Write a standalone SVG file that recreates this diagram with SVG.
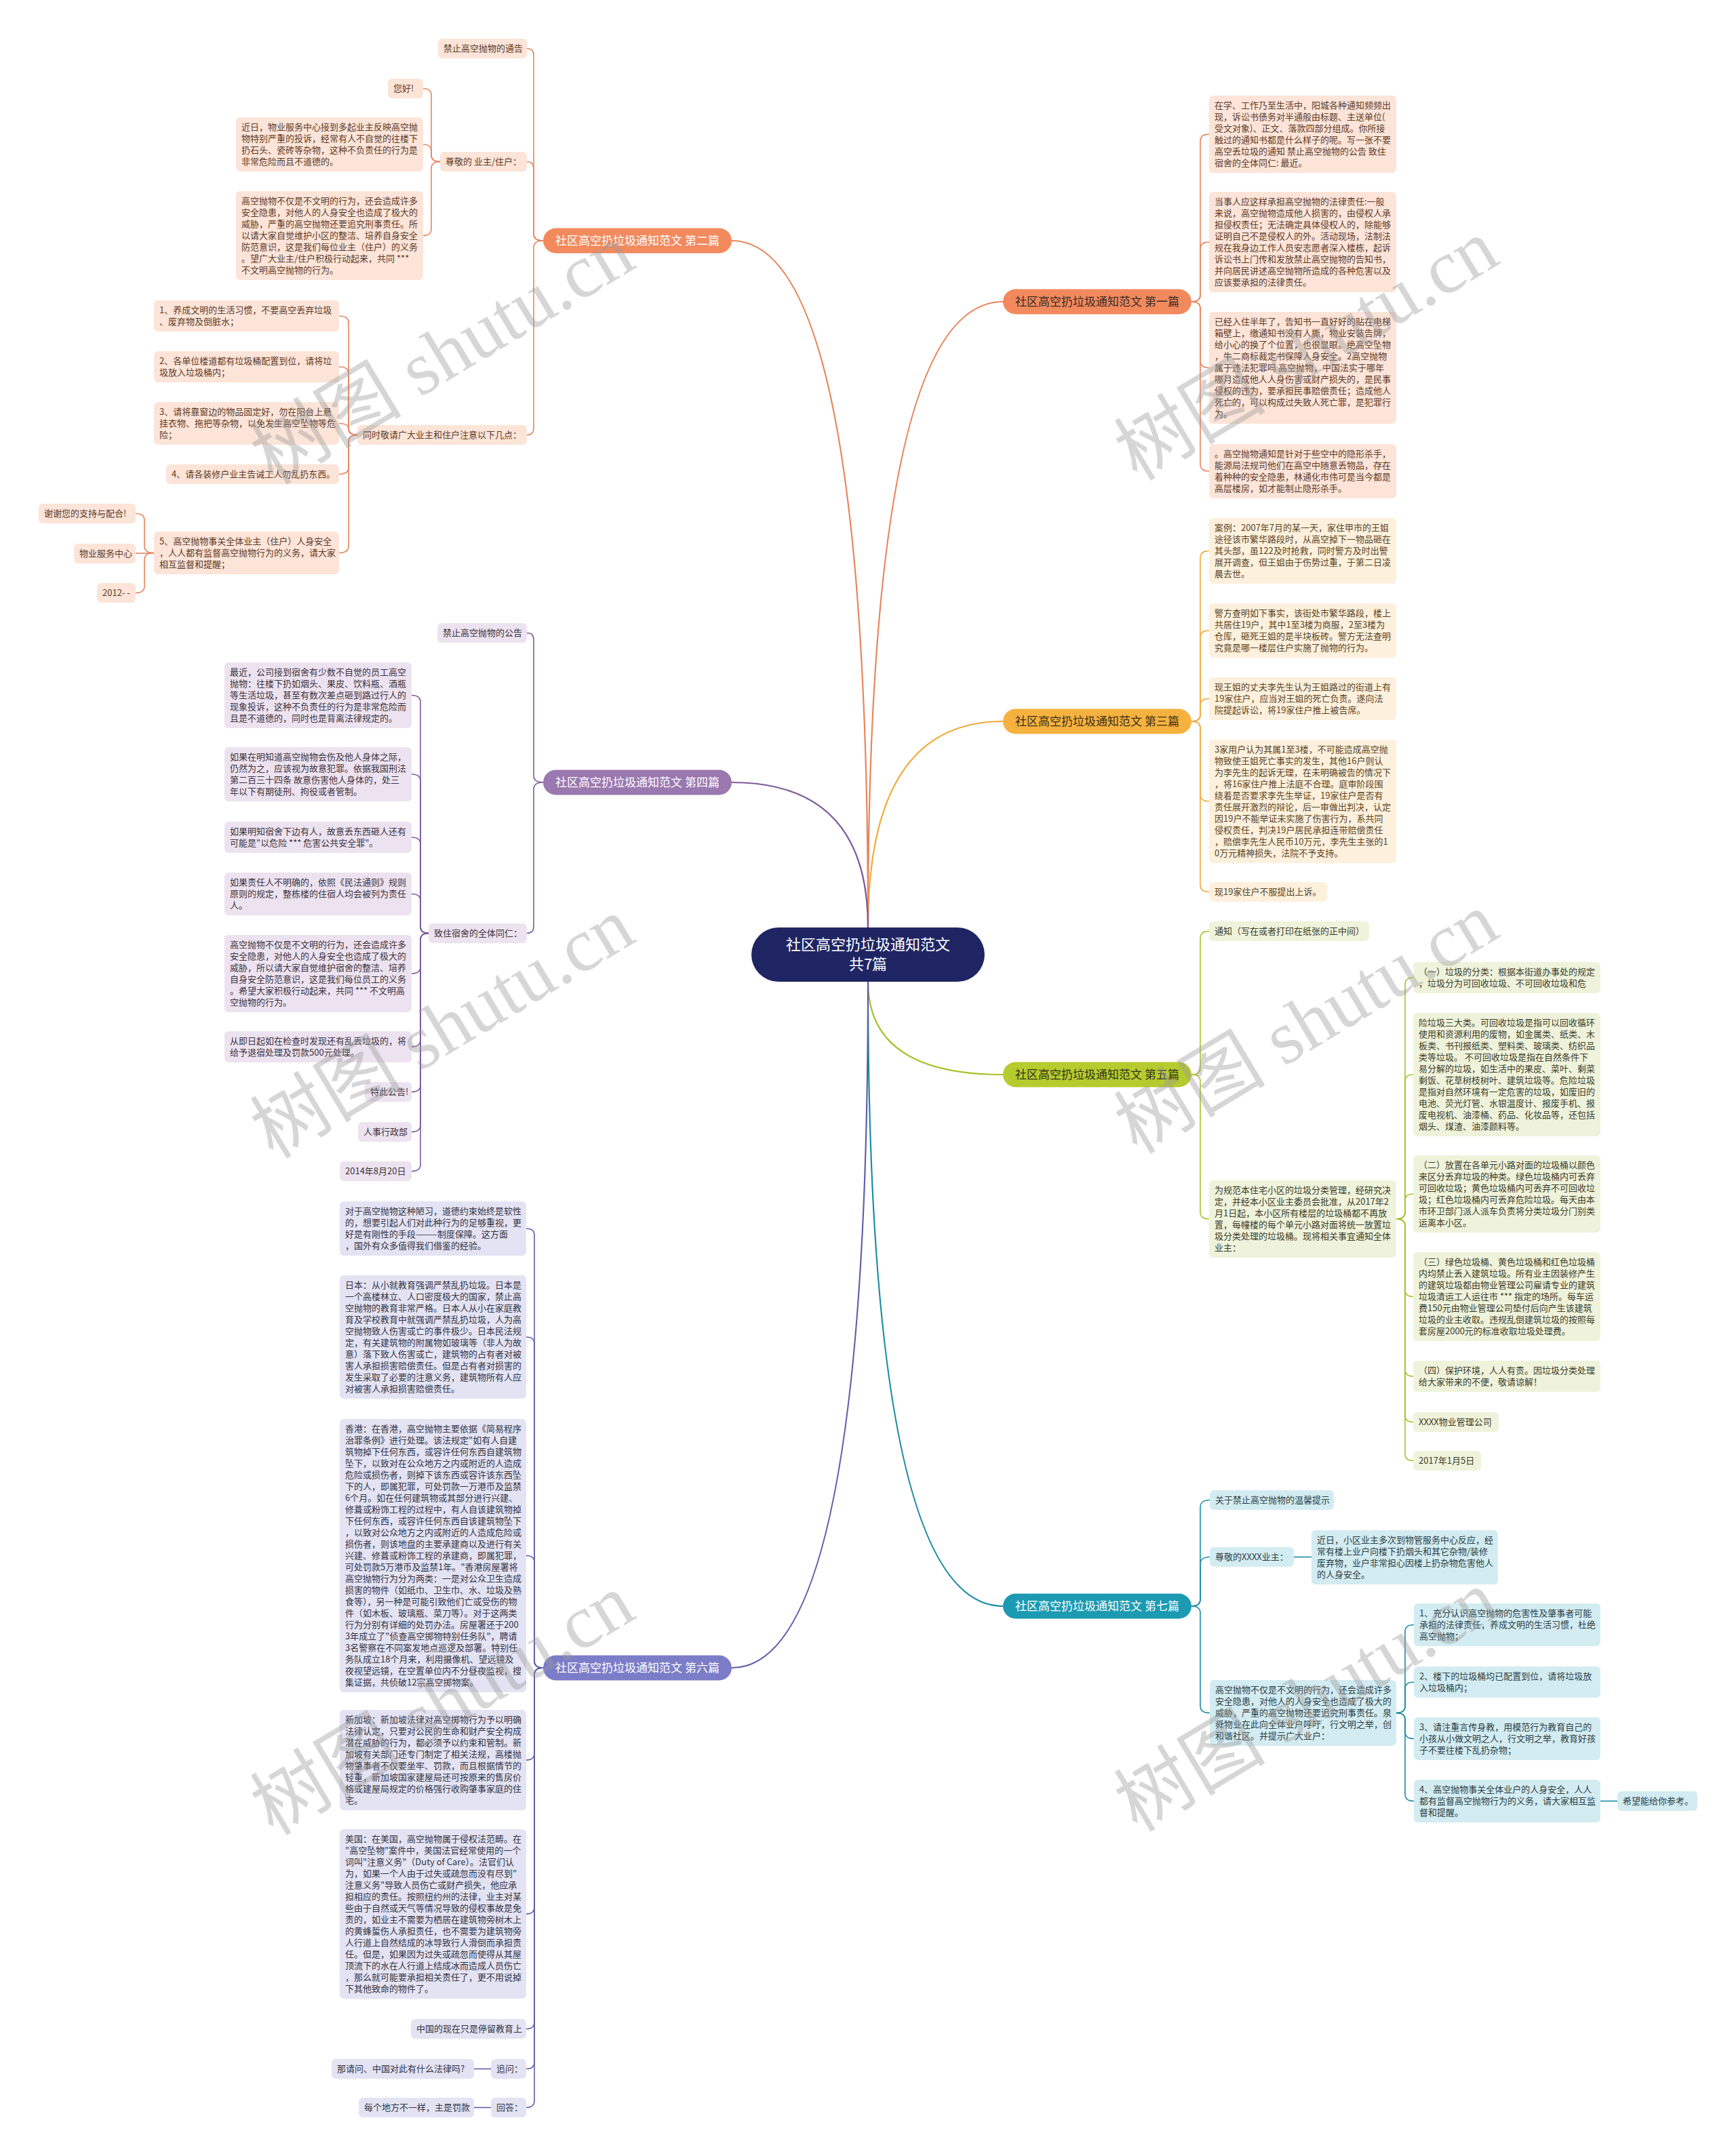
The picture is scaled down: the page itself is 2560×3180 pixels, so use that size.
<svg xmlns="http://www.w3.org/2000/svg" width="2560" height="3180" viewBox="0 0 2560 3180">
<style>
text{font-family:"Noto Sans CJK SC","Noto Sans",sans-serif;font-size:13px}
.o rect{fill:#FCE4D8}.o text{fill:#5c3a28}
.a rect{fill:#FDF0DC}.a text{fill:#5a4324}
.g rect{fill:#EFF3DB}.g text{fill:#3b3b2a}
.t rect{fill:#D3ECF2}.t text{fill:#2c3e44}
.p rect{fill:#EDE3F0}.p text{fill:#3b3340}
.v rect{fill:#E3E3F3}.v text{fill:#333344}
.pill text{font-size:17px;text-anchor:middle}
#connectors path{fill:none;stroke-width:1.6}
.co{stroke:#E8845C}.ca{stroke:#F0AA3C}.cg{stroke:#A9C02A}.ct{stroke:#1B8BA2}.cp{stroke:#7E5A9B}.cv{stroke:#5D5FA8}
.main{stroke-width:2.2!important}
.wm{font-family:"Liberation Serif","Noto Sans CJK SC",serif;font-size:112px;fill:#9a9a9a;opacity:0.4;text-anchor:middle}
</style>
<rect width="2560" height="3180" fill="#ffffff"/>
<g id="connectors">
<path class="co main" d="M1280 1368 Q1280 445 1479 445"/>
<path class="ca main" d="M1280 1368 Q1280 1064 1479 1064"/>
<path class="co main" d="M1280 1368 Q1280 355 1079 355"/>
<path class="cp main" d="M1280 1368 Q1280 1154 1079 1154"/>
<path class="cg main" d="M1280 1448 Q1280 1585 1479 1585"/>
<path class="ct main" d="M1280 1448 Q1280 2369 1479 2369"/>
<path class="cv main" d="M1280 1448 Q1280 2460 1079 2460"/>
<path class="co" d="M801 355 Q787 355 787 345 L787 81.5 Q787 71.5 777 71.5"/>
<path class="co" d="M801 355 Q787 355 787 345 L787 248.5 Q787 238.5 777 238.5"/>
<path class="co" d="M801 355 Q787 355 787 365 L787 631.5 Q787 641.5 777 641.5"/>
<path class="co" d="M649 238.5 Q636 238.5 636 228.5 L636 140.5 Q636 130.5 624 130.5"/>
<path class="co" d="M649 238.5 Q636 238.5 636 228.5 L636 223 Q636 213 624 213"/>
<path class="co" d="M649 238.5 Q636 238.5 636 248.5 L636 337.5 Q636 347.5 624 347.5"/>
<path class="co" d="M527 641.5 Q514 641.5 514 631.5 L514 476 Q514 466 500 466"/>
<path class="co" d="M527 641.5 Q514 641.5 514 631.5 L514 551 Q514 541 500 541"/>
<path class="co" d="M527 641.5 Q514 641.5 514 633 Q514 624.5 500 624.5"/>
<path class="co" d="M527 641.5 Q514 641.5 514 651.5 L514 689.5 Q514 699.5 500 699.5"/>
<path class="co" d="M527 641.5 Q514 641.5 514 651.5 L514 805.5 Q514 815.5 500 815.5"/>
<path class="co" d="M227 815.5 Q213 815.5 213 805.5 L213 767.5 Q213 757.5 200 757.5"/>
<path class="co" d="M227 816 L200 816"/>
<path class="co" d="M227 815.5 Q213 815.5 213 825.5 L213 864.5 Q213 874.5 200 874.5"/>
<path class="cp" d="M801 1154 Q787 1154 787 1144 L787 943.5 Q787 933.5 777 933.5"/>
<path class="cp" d="M801 1154 Q787 1154 787 1164 L787 1366.5 Q787 1376.5 777 1376.5"/>
<path class="cp" d="M632 1376.5 Q620 1376.5 620 1366.5 L620 1035.5 Q620 1025.5 607 1025.5"/>
<path class="cp" d="M632 1376.5 Q620 1376.5 620 1366.5 L620 1152 Q620 1142 607 1142"/>
<path class="cp" d="M632 1376.5 Q620 1376.5 620 1366.5 L620 1245 Q620 1235 607 1235"/>
<path class="cp" d="M632 1376.5 Q620 1376.5 620 1366.5 L620 1328.5 Q620 1318.5 607 1318.5"/>
<path class="cp" d="M632 1376.5 Q620 1376.5 620 1386.5 L620 1426 Q620 1436 607 1436"/>
<path class="cp" d="M632 1376.5 Q620 1376.5 620 1386.5 L620 1534 Q620 1544 607 1544"/>
<path class="cp" d="M632 1376.5 Q620 1376.5 620 1386.5 L620 1600.5 Q620 1610.5 607 1610.5"/>
<path class="cp" d="M632 1376.5 Q620 1376.5 620 1386.5 L620 1659.5 Q620 1669.5 607 1669.5"/>
<path class="cp" d="M632 1376.5 Q620 1376.5 620 1386.5 L620 1717.5 Q620 1727.5 607 1727.5"/>
<path class="cv" d="M801 2460 Q788 2460 788 2450 L788 1822 Q788 1812 776 1812"/>
<path class="cv" d="M801 2460 Q788 2460 788 2450 L788 1982 Q788 1972 776 1972"/>
<path class="cv" d="M801 2460 Q788 2460 788 2450 L788 2304.5 Q788 2294.5 776 2294.5"/>
<path class="cv" d="M801 2460 Q788 2460 788 2470 L788 2586 Q788 2596 776 2596"/>
<path class="cv" d="M801 2460 Q788 2460 788 2470 L788 2813 Q788 2823 776 2823"/>
<path class="cv" d="M801 2460 Q788 2460 788 2470 L788 2982.5 Q788 2992.5 776 2992.5"/>
<path class="cv" d="M801 2460 Q788 2460 788 2470 L788 3041.5 Q788 3051.5 776 3051.5"/>
<path class="cv" d="M801 2460 Q788 2460 788 2470 L788 3098.5 Q788 3108.5 776 3108.5"/>
<path class="cv" d="M724 3051.5 L699 3051.5"/>
<path class="cv" d="M724 3108.5 L699 3108.5"/>
<path class="co" d="M1757 445 Q1770 445 1770 435 L1770 208 Q1770 198 1783 198"/>
<path class="co" d="M1757 445 Q1770 445 1770 435 L1770 367 Q1770 357 1783 357"/>
<path class="co" d="M1757 445 Q1770 445 1770 455 L1770 532.5 Q1770 542.5 1783 542.5"/>
<path class="co" d="M1757 445 Q1770 445 1770 455 L1770 685 Q1770 695 1783 695"/>
<path class="ca" d="M1757 1064 Q1770 1064 1770 1054 L1770 822.5 Q1770 812.5 1783 812.5"/>
<path class="ca" d="M1757 1064 Q1770 1064 1770 1054 L1770 940 Q1770 930 1783 930"/>
<path class="ca" d="M1757 1064 Q1770 1064 1770 1054 L1770 1040.5 Q1770 1030.5 1783 1030.5"/>
<path class="ca" d="M1757 1064 Q1770 1064 1770 1074 L1770 1172 Q1770 1182 1783 1182"/>
<path class="ca" d="M1757 1064 Q1770 1064 1770 1074 L1770 1305.5 Q1770 1315.5 1783 1315.5"/>
<path class="cg" d="M1757 1585 Q1770 1585 1770 1575 L1770 1383.5 Q1770 1373.5 1783 1373.5"/>
<path class="cg" d="M1757 1585 Q1770 1585 1770 1595 L1770 1788 Q1770 1798 1783 1798"/>
<path class="cg" d="M2059 1798 Q2072 1798 2072 1788 L2072 1452 Q2072 1442 2084 1442"/>
<path class="cg" d="M2059 1798 Q2072 1798 2072 1788 L2072 1595 Q2072 1585 2084 1585"/>
<path class="cg" d="M2059 1798 Q2072 1798 2072 1788 L2072 1771 Q2072 1761 2084 1761"/>
<path class="cg" d="M2059 1798 Q2072 1798 2072 1808 L2072 1902.5 Q2072 1912.5 2084 1912.5"/>
<path class="cg" d="M2059 1798 Q2072 1798 2072 1808 L2072 2020 Q2072 2030 2084 2030"/>
<path class="cg" d="M2059 1798 Q2072 1798 2072 1808 L2072 2087.5 Q2072 2097.5 2084 2097.5"/>
<path class="cg" d="M2059 1798 Q2072 1798 2072 1808 L2072 2144.5 Q2072 2154.5 2084 2154.5"/>
<path class="ct" d="M1757 2369 Q1770 2369 1770 2359 L1770 2222.5 Q1770 2212.5 1784 2212.5"/>
<path class="ct" d="M1757 2369 Q1770 2369 1770 2359 L1770 2306.5 Q1770 2296.5 1784 2296.5"/>
<path class="ct" d="M1757 2369 Q1770 2369 1770 2379 L1770 2516.5 Q1770 2526.5 1784 2526.5"/>
<path class="ct" d="M1908 2296.5 L1934 2296.5"/>
<path class="ct" d="M2059 2526.5 Q2072 2526.5 2072 2516.5 L2072 2406.5 Q2072 2396.5 2085 2396.5"/>
<path class="ct" d="M2059 2526.5 Q2072 2526.5 2072 2516.5 L2072 2491 Q2072 2481 2085 2481"/>
<path class="ct" d="M2059 2526.5 Q2072 2526.5 2072 2536.5 L2072 2554.5 Q2072 2564.5 2085 2564.5"/>
<path class="ct" d="M2059 2526.5 Q2072 2526.5 2072 2536.5 L2072 2646.5 Q2072 2656.5 2085 2656.5"/>
<path class="ct" d="M2360 2656.5 L2385 2656.5"/>
</g>

<g id="center"><rect x="1108" y="1368" width="344" height="80" rx="40" fill="#1F2563"/>
<text x="1280" y="1401" font-size="22" fill="#ffffff" text-anchor="middle" style="font-size:22px">社区高空扔垃圾通知范文</text>
<text x="1280" y="1430" fill="#ffffff" text-anchor="middle" style="font-size:22px">共7篇</text></g>

<g id="b1" class="pill"><rect x="1479" y="426.5" width="278" height="37" rx="18.5" fill="#F28A5E"/><text x="1618" y="451" fill="#3a2a22">社区高空扔垃圾通知范文 第一篇</text></g>
<g id="b2" class="pill"><rect x="801" y="336.5" width="278" height="37" rx="18.5" fill="#F28A5E"/><text x="940" y="361" fill="#ffffff">社区高空扔垃圾通知范文 第二篇</text></g>
<g id="b3" class="pill"><rect x="1479" y="1045.5" width="278" height="37" rx="18.5" fill="#F6B23E"/><text x="1618" y="1070" fill="#3a2e1a">社区高空扔垃圾通知范文 第三篇</text></g>
<g id="b4" class="pill"><rect x="801" y="1135.5" width="278" height="37" rx="18.5" fill="#9A78B0"/><text x="940" y="1160" fill="#ffffff">社区高空扔垃圾通知范文 第四篇</text></g>
<g id="b5" class="pill"><rect x="1479" y="1566.5" width="278" height="37" rx="18.5" fill="#B6CB2E"/><text x="1618" y="1591" fill="#2f3316">社区高空扔垃圾通知范文 第五篇</text></g>
<g id="b6" class="pill"><rect x="801" y="2441.5" width="278" height="37" rx="18.5" fill="#7C7DC8"/><text x="940" y="2466" fill="#ffffff">社区高空扔垃圾通知范文 第六篇</text></g>
<g id="b7" class="pill"><rect x="1479" y="2350.5" width="278" height="37" rx="18.5" fill="#1C9AB2"/><text x="1618" y="2375" fill="#ffffff">社区高空扔垃圾通知范文 第七篇</text></g>

<!-- Section 2 -->
<g id="s2-1" class="o"><rect x="646" y="57" width="131" height="29" rx="6"/><text x="654" y="76">禁止高空抛物的通告</text></g>
<g id="s2-2" class="o"><rect x="649" y="224" width="128" height="29" rx="6"/><text x="657" y="243">尊敬的 业主/住户：</text></g>
<g id="s2-2a" class="o"><rect x="572" y="116" width="52" height="29" rx="6"/><text x="580" y="135">您好!</text></g>
<g id="s2-2b" class="o"><rect x="348" y="173" width="276" height="80" rx="6"/><text x="356" y="192"><tspan x="356">近日，物业服务中心接到多起业主反映高空抛</tspan><tspan x="356" dy="17">物特别严重的投诉，经常有人不自觉的往楼下</tspan><tspan x="356" dy="17">扔石头、瓷砖等杂物，这种不负责任的行为是</tspan><tspan x="356" dy="17">非常危险而且不道德的。</tspan></text></g>
<g id="s2-2c" class="o"><rect x="348" y="282" width="276" height="131" rx="6"/><text x="356" y="301"><tspan x="356">高空抛物不仅是不文明的行为，还会造成许多</tspan><tspan x="356" dy="17">安全隐患，对他人的人身安全也造成了极大的</tspan><tspan x="356" dy="17">威胁，严重的高空抛物还要追究刑事责任。所</tspan><tspan x="356" dy="17">以请大家自觉维护小区的整洁、培养自身安全</tspan><tspan x="356" dy="17">防范意识，这是我们每位业主（住户）的义务</tspan><tspan x="356" dy="17">。望广大业主/住户积极行动起来，共同 ***</tspan><tspan x="356" dy="17">不文明高空抛物的行为。</tspan></text></g>
<g id="s2-3" class="o"><rect x="527" y="627" width="250" height="29" rx="6"/><text x="535" y="646">同时敬请广大业主和住户注意以下几点：</text></g>
<g id="s2-3a" class="o"><rect x="227" y="443" width="273" height="46" rx="6"/><text x="235" y="462"><tspan x="235">1、养成文明的生活习惯，不要高空丢弃垃圾</tspan><tspan x="235" dy="17">、废弃物及倒脏水；</tspan></text></g>
<g id="s2-3b" class="o"><rect x="227" y="518" width="273" height="46" rx="6"/><text x="235" y="537"><tspan x="235">2、各单位楼道都有垃圾桶配置到位，请将垃</tspan><tspan x="235" dy="17">圾放入垃圾桶内；</tspan></text></g>
<g id="s2-3c" class="o"><rect x="227" y="593" width="273" height="63" rx="6"/><text x="235" y="612"><tspan x="235">3、请将靠窗边的物品固定好，勿在阳台上悬</tspan><tspan x="235" dy="17">挂衣物、拖把等杂物，以免发生高空坠物等危</tspan><tspan x="235" dy="17">险；</tspan></text></g>
<g id="s2-3d" class="o"><rect x="245" y="685" width="255" height="29" rx="6"/><text x="253" y="704">4、请各装修户业主告诫工人勿乱扔东西。</text></g>
<g id="s2-3e" class="o"><rect x="227" y="784" width="273" height="63" rx="6"/><text x="235" y="803"><tspan x="235">5、高空抛物事关全体业主（住户）人身安全</tspan><tspan x="235" dy="17">，人人都有监督高空抛物行为的义务，请大家</tspan><tspan x="235" dy="17">相互监督和提醒；</tspan></text></g>
<g id="s2-3e1" class="o"><rect x="57" y="743" width="143" height="29" rx="6"/><text x="65" y="762">谢谢您的支持与配合!</text></g>
<g id="s2-3e2" class="o"><rect x="109" y="802" width="91" height="29" rx="6"/><text x="117" y="821">物业服务中心</text></g>
<g id="s2-3e3" class="o"><rect x="143" y="860" width="57" height="29" rx="6"/><text x="151" y="879">2012- -</text></g>

<!-- Section 4 -->
<g id="s4-1" class="p"><rect x="645" y="919" width="132" height="29" rx="6"/><text x="653" y="938">禁止高空抛物的公告</text></g>
<g id="s4-2" class="p"><rect x="632" y="1362" width="145" height="29" rx="6"/><text x="640" y="1381">致住宿舍的全体同仁：</text></g>
<g id="s4-2a" class="p"><rect x="331" y="977" width="276" height="97" rx="6"/><text x="339" y="996"><tspan x="339">最近，公司接到宿舍有少数不自觉的员工高空</tspan><tspan x="339" dy="17">抛物：往楼下扔如烟头、果皮、饮料瓶、酒瓶</tspan><tspan x="339" dy="17">等生活垃圾，甚至有数次差点砸到路过行人的</tspan><tspan x="339" dy="17">现象投诉，这种不负责任的行为是非常危险而</tspan><tspan x="339" dy="17">且是不道德的，同时也是背离法律规定的。</tspan></text></g>
<g id="s4-2b" class="p"><rect x="331" y="1102" width="276" height="80" rx="6"/><text x="339" y="1121"><tspan x="339">如果在明知道高空抛物会伤及他人身体之际，</tspan><tspan x="339" dy="17">仍然为之，应该视为故意犯罪。依据我国刑法</tspan><tspan x="339" dy="17">第二百三十四条 故意伤害他人身体的，处三</tspan><tspan x="339" dy="17">年以下有期徒刑、拘役或者管制。</tspan></text></g>
<g id="s4-2c" class="p"><rect x="331" y="1212" width="276" height="46" rx="6"/><text x="339" y="1231"><tspan x="339">如果明知宿舍下边有人，故意丢东西砸人还有</tspan><tspan x="339" dy="17">可能是"以危险 *** 危害公共安全罪"。</tspan></text></g>
<g id="s4-2d" class="p"><rect x="331" y="1287" width="276" height="63" rx="6"/><text x="339" y="1306"><tspan x="339">如果责任人不明确的，依照《民法通则》规则</tspan><tspan x="339" dy="17">原则的规定，整栋楼的住宿人均会被列为责任</tspan><tspan x="339" dy="17">人。</tspan></text></g>
<g id="s4-2e" class="p"><rect x="331" y="1379" width="276" height="114" rx="6"/><text x="339" y="1398"><tspan x="339">高空抛物不仅是不文明的行为，还会造成许多</tspan><tspan x="339" dy="17">安全隐患，对他人的人身安全也造成了极大的</tspan><tspan x="339" dy="17">威胁，所以请大家自觉维护宿舍的整洁、培养</tspan><tspan x="339" dy="17">自身安全防范意识，这是我们每位员工的义务</tspan><tspan x="339" dy="17">。希望大家积极行动起来，共同 *** 不文明高</tspan><tspan x="339" dy="17">空抛物的行为。</tspan></text></g>
<g id="s4-2f" class="p"><rect x="331" y="1521" width="276" height="46" rx="6"/><text x="339" y="1540"><tspan x="339">从即日起如在检查时发现还有乱丢垃圾的，将</tspan><tspan x="339" dy="17">给予退宿处理及罚款500元处理。</tspan></text></g>
<g id="s4-2g" class="p"><rect x="538" y="1596" width="69" height="29" rx="6"/><text x="546" y="1615">特此公告!</text></g>
<g id="s4-2h" class="p"><rect x="528" y="1655" width="79" height="29" rx="6"/><text x="536" y="1674">人事行政部</text></g>
<g id="s4-2i" class="p"><rect x="501" y="1713" width="106" height="29" rx="6"/><text x="509" y="1732">2014年8月20日</text></g>

<!-- Section 6 -->
<g id="s6-1" class="v"><rect x="501" y="1772" width="275" height="80" rx="6"/><text x="509" y="1791"><tspan x="509">对于高空抛物这种陋习，道德约束始终是软性</tspan><tspan x="509" dy="17">的，想要引起人们对此种行为的足够重视，更</tspan><tspan x="509" dy="17">好是有刚性的手段———制度保障。这方面</tspan><tspan x="509" dy="17">，国外有众多值得我们借鉴的经验。</tspan></text></g>
<g id="s6-2" class="v"><rect x="501" y="1881" width="275" height="182" rx="6"/><text x="509" y="1900"><tspan x="509">日本：从小就教育强调严禁乱扔垃圾。日本是</tspan><tspan x="509" dy="17">一个高楼林立、人口密度极大的国家，禁止高</tspan><tspan x="509" dy="17">空抛物的教育非常严格。日本人从小在家庭教</tspan><tspan x="509" dy="17">育及学校教育中就强调严禁乱扔垃圾，人为高</tspan><tspan x="509" dy="17">空抛物致人伤害或亡的事件极少。日本民法规</tspan><tspan x="509" dy="17">定，有关建筑物的附属物如玻璃等（非人为故</tspan><tspan x="509" dy="17">意）落下致人伤害或亡，建筑物的占有者对被</tspan><tspan x="509" dy="17">害人承担损害赔偿责任。但是占有者对损害的</tspan><tspan x="509" dy="17">发生采取了必要的注意义务，建筑物所有人应</tspan><tspan x="509" dy="17">对被害人承担损害赔偿责任。</tspan></text></g>
<g id="s6-3" class="v"><rect x="501" y="2093" width="275" height="403" rx="6"/><text x="509" y="2112"><tspan x="509">香港：在香港，高空抛物主要依据《简易程序</tspan><tspan x="509" dy="17">治罪条例》进行处理。该法规定"如有人自建</tspan><tspan x="509" dy="17">筑物掉下任何东西，或容许任何东西自建筑物</tspan><tspan x="509" dy="17">坠下，以致对在公众地方之内或附近的人造成</tspan><tspan x="509" dy="17">危险或损伤者，则掉下该东西或容许该东西坠</tspan><tspan x="509" dy="17">下的人，即属犯罪，可处罚款一万港币及监禁</tspan><tspan x="509" dy="17">6个月。如在任何建筑物或其部分进行兴建、</tspan><tspan x="509" dy="17">修葺或粉饰工程的过程中，有人自该建筑物掉</tspan><tspan x="509" dy="17">下任何东西，或容许任何东西自该建筑物坠下</tspan><tspan x="509" dy="17">，以致对公众地方之内或附近的人造成危险或</tspan><tspan x="509" dy="17">损伤者，则该地盘的主要承建商以及进行有关</tspan><tspan x="509" dy="17">兴建、修葺或粉饰工程的承建商，即属犯罪，</tspan><tspan x="509" dy="17">可处罚款5万港币及监禁1年。"香港房屋署将</tspan><tspan x="509" dy="17">高空抛物行为分为两类：一是对公众卫生造成</tspan><tspan x="509" dy="17">损害的物件（如纸巾、卫生巾、水、垃圾及熟</tspan><tspan x="509" dy="17">食等），另一种是可能引致他们亡或受伤的物</tspan><tspan x="509" dy="17">件（如木板、玻璃瓶、菜刀等）。对于这两类</tspan><tspan x="509" dy="17">行为分别有详细的处罚办法。房屋署还于200</tspan><tspan x="509" dy="17">3年成立了"侦查高空掷物特别任务队"，聘请</tspan><tspan x="509" dy="17">3名警察在不同案发地点巡逻及部署。特别任</tspan><tspan x="509" dy="17">务队成立18个月来，利用摄像机、望远镜及</tspan><tspan x="509" dy="17">夜视望远镜，在空置单位内不分昼夜监视，搜</tspan><tspan x="509" dy="17">集证据，共侦破12宗高空掷物案。</tspan></text></g>
<g id="s6-4" class="v"><rect x="501" y="2522" width="275" height="148" rx="6"/><text x="509" y="2541"><tspan x="509">新加坡：新加坡法律对高空掷物行为予以明确</tspan><tspan x="509" dy="17">法律认定，只要对公民的生命和财产安全构成</tspan><tspan x="509" dy="17">潜在威胁的行为，都必须予以约束和管制。新</tspan><tspan x="509" dy="17">加坡有关部门还专门制定了相关法规，高楼抛</tspan><tspan x="509" dy="17">物肇事者不仅要坐牢、罚款，而且根据情节的</tspan><tspan x="509" dy="17">轻重，新加坡国家建屋局还可按原来的售房价</tspan><tspan x="509" dy="17">格或建屋局规定的价格强行收购肇事家庭的住</tspan><tspan x="509" dy="17">宅。</tspan></text></g>
<g id="s6-5" class="v"><rect x="501" y="2698" width="275" height="250" rx="6"/><text x="509" y="2717"><tspan x="509">美国：在美国，高空抛物属于侵权法范畴。在</tspan><tspan x="509" dy="17">"高空坠物"案件中，美国法官经常使用的一个</tspan><tspan x="509" dy="17">词叫"注意义务"（Duty of Care）。法官们认</tspan><tspan x="509" dy="17">为，如果一个人由于过失或疏忽而没有尽到"</tspan><tspan x="509" dy="17">注意义务"导致人员伤亡或财产损失，他应承</tspan><tspan x="509" dy="17">担相应的责任。按照纽约州的法律，业主对某</tspan><tspan x="509" dy="17">些由于自然或天气等情况导致的侵权事故是免</tspan><tspan x="509" dy="17">责的，如业主不需要为栖居在建筑物旁树木上</tspan><tspan x="509" dy="17">的黄蜂蜇伤人承担责任，也不需要为建筑物旁</tspan><tspan x="509" dy="17">人行道上自然结成的冰导致行人滑倒而承担责</tspan><tspan x="509" dy="17">任。但是，如果因为过失或疏忽而使得从其屋</tspan><tspan x="509" dy="17">顶流下的水在人行道上结成冰而造成人员伤亡</tspan><tspan x="509" dy="17">，那么就可能要承担相关责任了，更不用说掉</tspan><tspan x="509" dy="17">下其他致命的物件了。</tspan></text></g>
<g id="s6-6" class="v"><rect x="606" y="2978" width="170" height="29" rx="6"/><text x="614" y="2997">中国的现在只是停留教育上</text></g>
<g id="s6-7" class="v"><rect x="724" y="3037" width="52" height="29" rx="6"/><text x="732" y="3056">追问：</text></g>
<g id="s6-7a" class="v"><rect x="489" y="3037" width="210" height="29" rx="6"/><text x="497" y="3056">那请问、中国对此有什么法律吗?</text></g>
<g id="s6-8" class="v"><rect x="724" y="3094" width="52" height="29" rx="6"/><text x="732" y="3113">回答：</text></g>
<g id="s6-8a" class="v"><rect x="529" y="3094" width="170" height="29" rx="6"/><text x="537" y="3113">每个地方不一样，主是罚款</text></g>

<!-- Section 1 -->
<g id="s1-1" class="o"><rect x="1783" y="141" width="276" height="114" rx="6"/><text x="1791" y="160"><tspan x="1791">在学、工作乃至生活中，阳城各种通知频频出</tspan><tspan x="1791" dy="17">现，诉讼书债务对半通般由标题、主送单位(</tspan><tspan x="1791" dy="17">受文对象)、正文、落款四部分组成。你所接</tspan><tspan x="1791" dy="17">触过的通知书都是什么样子的呢。写一张不要</tspan><tspan x="1791" dy="17">高空丢垃圾的通知 禁止高空抛物的公告 致住</tspan><tspan x="1791" dy="17">宿舍的全体同仁: 最近。</tspan></text></g>
<g id="s1-2" class="o"><rect x="1783" y="283" width="276" height="148" rx="6"/><text x="1791" y="302"><tspan x="1791">当事人应这样承担高空抛物的法律责任:一般</tspan><tspan x="1791" dy="17">来说，高空抛物造成他人损害的，由侵权人承</tspan><tspan x="1791" dy="17">担侵权责任；无法确定具体侵权人的，除能够</tspan><tspan x="1791" dy="17">证明自己不是侵权人的外。活动现场，法制法</tspan><tspan x="1791" dy="17">规在我身边工作人员安志愿者深入楼栋，起诉</tspan><tspan x="1791" dy="17">诉讼书上门传和发放禁止高空抛物的告知书，</tspan><tspan x="1791" dy="17">并向居民讲述高空抛物所造成的各种危害以及</tspan><tspan x="1791" dy="17">应该要承担的法律责任。</tspan></text></g>
<g id="s1-3" class="o"><rect x="1783" y="460" width="276" height="165" rx="6"/><text x="1791" y="479"><tspan x="1791">已经入住半年了，告知书一直好好的贴在电梯</tspan><tspan x="1791" dy="17">箱壁上，缴通知书没有人撕，物业安装告牌，</tspan><tspan x="1791" dy="17">给小心的换了个位置，也很显眼。绝高空坠物</tspan><tspan x="1791" dy="17">，牛二商标裁定书保障人身安全。2高空抛物</tspan><tspan x="1791" dy="17">属于违法犯罪吗 高空抛物，中国法实于哪年</tspan><tspan x="1791" dy="17">哪月造成他人人身伤害或财产损失的，是民事</tspan><tspan x="1791" dy="17">侵权的违为，要承担民事赔偿责任；造成他人</tspan><tspan x="1791" dy="17">死亡的，可以构成过失致人死亡罪，是犯罪行</tspan><tspan x="1791" dy="17">为。</tspan></text></g>
<g id="s1-4" class="o"><rect x="1783" y="655" width="276" height="80" rx="6"/><text x="1791" y="674"><tspan x="1791">。高空抛物通知是针对于些空中的隐形杀手，</tspan><tspan x="1791" dy="17">能源局法规司他们在高空中随意丢物品，存在</tspan><tspan x="1791" dy="17">着种种的安全隐患，林通化市伟可是当今都是</tspan><tspan x="1791" dy="17">高层楼房，如才能制止隐形杀手。</tspan></text></g>

<!-- Section 3 -->
<g id="s3-1" class="a"><rect x="1783" y="764" width="276" height="97" rx="6"/><text x="1791" y="783"><tspan x="1791">案例：2007年7月的某一天，家住甲市的王姐</tspan><tspan x="1791" dy="17">途径该市繁华路段时，从高空掉下一物品砸在</tspan><tspan x="1791" dy="17">其头部，虽122及时抢救，同时警方及时出警</tspan><tspan x="1791" dy="17">展开调查，但王姐由于伤势过重，于第二日凌</tspan><tspan x="1791" dy="17">晨去世。</tspan></text></g>
<g id="s3-2" class="a"><rect x="1783" y="890" width="276" height="80" rx="6"/><text x="1791" y="909"><tspan x="1791">警方查明如下事实，该街处市繁华路段，楼上</tspan><tspan x="1791" dy="17">共居住19户，其中1至3楼为商服，2至3楼为</tspan><tspan x="1791" dy="17">仓库，砸死王姐的是半块板砖。警方无法查明</tspan><tspan x="1791" dy="17">究竟是哪一楼层住户实施了抛物的行为。</tspan></text></g>
<g id="s3-3" class="a"><rect x="1783" y="999" width="276" height="63" rx="6"/><text x="1791" y="1018"><tspan x="1791">现王姐的丈夫李先生认为王姐路过的街道上有</tspan><tspan x="1791" dy="17">19家住户，应当对王姐的死亡负责。遂向法</tspan><tspan x="1791" dy="17">院提起诉讼，将19家住户推上被告席。</tspan></text></g>
<g id="s3-4" class="a"><rect x="1783" y="1091" width="276" height="182" rx="6"/><text x="1791" y="1110"><tspan x="1791">3家用户认为其属1至3楼，不可能造成高空抛</tspan><tspan x="1791" dy="17">物致使王姐死亡事实的发生，其他16户则认</tspan><tspan x="1791" dy="17">为李先生的起诉无理，在未明确被告的情况下</tspan><tspan x="1791" dy="17">，将16家住户推上法庭不合理。庭审阶段围</tspan><tspan x="1791" dy="17">绕着是否要求李先生举证，19家住户是否有</tspan><tspan x="1791" dy="17">责任展开激烈的辩论，后一审做出判决，认定</tspan><tspan x="1791" dy="17">因19户不能举证未实施了伤害行为，系共同</tspan><tspan x="1791" dy="17">侵权责任，判决19户居民承担连带赔偿责任</tspan><tspan x="1791" dy="17">，赔偿李先生人民币10万元，李先生主张的1</tspan><tspan x="1791" dy="17">0万元精神损失，法院不予支持。</tspan></text></g>
<g id="s3-5" class="a"><rect x="1783" y="1301" width="174" height="29" rx="6"/><text x="1791" y="1320">现19家住户不服提出上诉。</text></g>

<!-- Section 5 -->
<g id="s5-1" class="g"><rect x="1783" y="1359" width="236" height="29" rx="6"/><text x="1791" y="1378">通知（写在或者打印在纸张的正中间）</text></g>
<g id="s5-2" class="g"><rect x="1783" y="1741" width="276" height="114" rx="6"/><text x="1791" y="1760"><tspan x="1791">为规范本住宅小区的垃圾分类管理，经研究决</tspan><tspan x="1791" dy="17">定，并经本小区业主委员会批准，从2017年2</tspan><tspan x="1791" dy="17">月1日起，本小区所有楼层的垃圾桶都不再放</tspan><tspan x="1791" dy="17">置，每幢楼的每个单元小路对面将统一放置垃</tspan><tspan x="1791" dy="17">圾分类处理的垃圾桶。现将相关事宜通知全体</tspan><tspan x="1791" dy="17">业主：</tspan></text></g>
<g id="s5-2a" class="g"><rect x="2084" y="1419" width="276" height="46" rx="6"/><text x="2092" y="1438"><tspan x="2092">（一）垃圾的分类：根据本街道办事处的规定</tspan><tspan x="2092" dy="17">，垃圾分为可回收垃圾、不可回收垃圾和危</tspan></text></g>
<g id="s5-2b" class="g"><rect x="2084" y="1494" width="276" height="182" rx="6"/><text x="2092" y="1513"><tspan x="2092">险垃圾三大类。可回收垃圾是指可以回收循环</tspan><tspan x="2092" dy="17">使用和资源利用的废物，如金属类、纸类、木</tspan><tspan x="2092" dy="17">板类、书刊报纸类、塑料类、玻璃类、纺织品</tspan><tspan x="2092" dy="17">类等垃圾。 不可回收垃圾是指在自然条件下</tspan><tspan x="2092" dy="17">易分解的垃圾，如生活中的果皮、菜叶、剩菜</tspan><tspan x="2092" dy="17">剩饭、花草树枝树叶、建筑垃圾等。危险垃圾</tspan><tspan x="2092" dy="17">是指对自然环境有一定危害的垃圾，如废旧的</tspan><tspan x="2092" dy="17">电池、荧光灯管、水银温度计、报废手机、报</tspan><tspan x="2092" dy="17">废电视机、油漆桶、药品、化妆品等，还包括</tspan><tspan x="2092" dy="17">烟头、煤渣、油漆颜料等。</tspan></text></g>
<g id="s5-2c" class="g"><rect x="2084" y="1704" width="276" height="114" rx="6"/><text x="2092" y="1723"><tspan x="2092">（二）放置在各单元小路对面的垃圾桶以颜色</tspan><tspan x="2092" dy="17">来区分丢弃垃圾的种类。绿色垃圾桶内可丢弃</tspan><tspan x="2092" dy="17">可回收垃圾；黄色垃圾桶内可丢弃不可回收垃</tspan><tspan x="2092" dy="17">圾；红色垃圾桶内可丢弃危险垃圾。每天由本</tspan><tspan x="2092" dy="17">市环卫部门派人派车负责将分类垃圾分门别类</tspan><tspan x="2092" dy="17">运离本小区。</tspan></text></g>
<g id="s5-2d" class="g"><rect x="2084" y="1847" width="276" height="131" rx="6"/><text x="2092" y="1866"><tspan x="2092">（三）绿色垃圾桶、黄色垃圾桶和红色垃圾桶</tspan><tspan x="2092" dy="17">内均禁止丢入建筑垃圾。所有业主因装修产生</tspan><tspan x="2092" dy="17">的建筑垃圾都由物业管理公司雇请专业的建筑</tspan><tspan x="2092" dy="17">垃圾清运工人运往市 *** 指定的场所。每车运</tspan><tspan x="2092" dy="17">费150元由物业管理公司垫付后向产生该建筑</tspan><tspan x="2092" dy="17">垃圾的业主收取。违规乱倒建筑垃圾的按照每</tspan><tspan x="2092" dy="17">套房屋2000元的标准收取垃圾处理费。</tspan></text></g>
<g id="s5-2e" class="g"><rect x="2084" y="2007" width="276" height="46" rx="6"/><text x="2092" y="2026"><tspan x="2092">（四）保护环境，人人有责。因垃圾分类处理</tspan><tspan x="2092" dy="17">给大家带来的不便，敬请谅解！</tspan></text></g>
<g id="s5-2f" class="g"><rect x="2084" y="2083" width="126" height="29" rx="6"/><text x="2092" y="2102">XXXX物业管理公司</text></g>
<g id="s5-2g" class="g"><rect x="2084" y="2140" width="100" height="29" rx="6"/><text x="2092" y="2159">2017年1月5日</text></g>

<!-- Section 7 -->
<g id="s7-1" class="t"><rect x="1784" y="2198" width="183" height="29" rx="6"/><text x="1792" y="2217">关于禁止高空抛物的温馨提示</text></g>
<g id="s7-2" class="t"><rect x="1784" y="2282" width="124" height="29" rx="6"/><text x="1792" y="2301">尊敬的XXXX业主：</text></g>
<g id="s7-2a" class="t"><rect x="1934" y="2257" width="275" height="80" rx="6"/><text x="1942" y="2276"><tspan x="1942">近日，小区业主多次到物管服务中心反应，经</tspan><tspan x="1942" dy="17">常有楼上业户向楼下扔烟头和其它杂物/装修</tspan><tspan x="1942" dy="17">废弃物，业户非常担心因楼上扔杂物危害他人</tspan><tspan x="1942" dy="17">的人身安全。</tspan></text></g>
<g id="s7-3" class="t"><rect x="1784" y="2478" width="275" height="97" rx="6"/><text x="1792" y="2497"><tspan x="1792">高空抛物不仅是不文明的行为，还会造成许多</tspan><tspan x="1792" dy="17">安全隐患，对他人的人身安全也造成了极大的</tspan><tspan x="1792" dy="17">威胁，严重的高空抛物还要追究刑事责任。泉</tspan><tspan x="1792" dy="17">舜物业在此向全体业户呼吁，行文明之举，创</tspan><tspan x="1792" dy="17">和谐社区。并提示广大业户：</tspan></text></g>
<g id="s7-3a" class="t"><rect x="2085" y="2365" width="275" height="63" rx="6"/><text x="2093" y="2384"><tspan x="2093">1、充分认识高空抛物的危害性及肇事者可能</tspan><tspan x="2093" dy="17">承担的法律责任，养成文明的生活习惯，杜绝</tspan><tspan x="2093" dy="17">高空抛物；</tspan></text></g>
<g id="s7-3b" class="t"><rect x="2085" y="2458" width="275" height="46" rx="6"/><text x="2093" y="2477"><tspan x="2093">2、楼下的垃圾桶均已配置到位，请将垃圾放</tspan><tspan x="2093" dy="17">入垃圾桶内；</tspan></text></g>
<g id="s7-3c" class="t"><rect x="2085" y="2533" width="275" height="63" rx="6"/><text x="2093" y="2552"><tspan x="2093">3、请注重言传身教，用模范行为教育自己的</tspan><tspan x="2093" dy="17">小孩从小做文明之人，行文明之举，教育好孩</tspan><tspan x="2093" dy="17">子不要往楼下乱扔杂物；</tspan></text></g>
<g id="s7-3d" class="t"><rect x="2085" y="2625" width="275" height="63" rx="6"/><text x="2093" y="2644"><tspan x="2093">4、高空抛物事关全体业户的人身安全，人人</tspan><tspan x="2093" dy="17">都有监督高空抛物行为的义务，请大家相互监</tspan><tspan x="2093" dy="17">督和提醒。</tspan></text></g>
<g id="s7-3d1" class="t"><rect x="2385" y="2642" width="118" height="29" rx="6"/><text x="2393" y="2661">希望能给你参考。</text></g>

<g id="watermarks">
<text class="wm" transform="rotate(-31 653 523)" x="653" y="560">树图 shutu.cn</text>
<text class="wm" transform="rotate(-31 653 1517)" x="653" y="1554">树图 shutu.cn</text>
<text class="wm" transform="rotate(-31 653 2515)" x="653" y="2552">树图 shutu.cn</text>
<text class="wm" transform="rotate(-31 1927 517)" x="1927" y="554">树图 shutu.cn</text>
<text class="wm" transform="rotate(-31 1927 1510)" x="1927" y="1547">树图 shutu.cn</text>
<text class="wm" transform="rotate(-31 1927 2510)" x="1927" y="2547">树图 shutu.cn</text>
</g>
</svg>
